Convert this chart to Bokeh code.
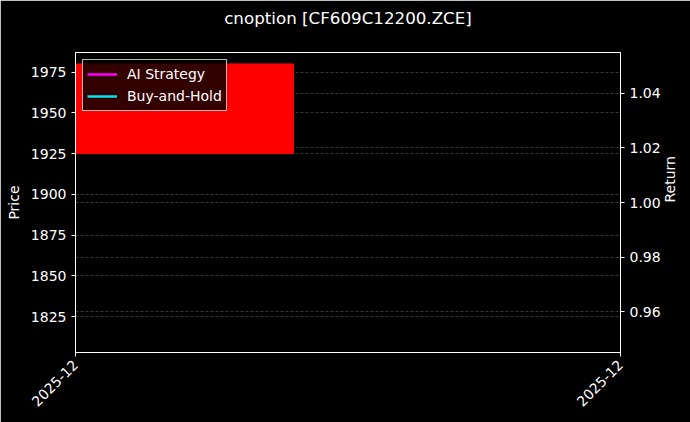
import math

from bokeh.embed import file_html
from bokeh.models import (FixedTicker, Grid, LinearAxis, NumeralTickFormatter,
                          Range1d)
from bokeh.plotting import figure
from bokeh.resources import INLINE


# Data (one trading bar)
bar_index = [0]
bar_open = [1980]
bar_close = [1925]
date_ticks = [0, 1]
date_labels = ["2025-12", "2025-12"]

strategy_return = [1.0]
buyhold_return = [1.0]

price_ticks = [1825, 1850, 1875, 1900, 1925, 1950, 1975]
return_ticks = [0.96, 0.98, 1.00, 1.02, 1.04]

FONT = "DejaVu Sans"
GRID = "#444444"

p = figure(
    frame_width=545,
    frame_height=300,
    # trailing blank line lifts the title towards the top edge
    title="cnoption [CF609C12200.ZCE]\n",
    x_range=Range1d(0, 1),
    y_range=Range1d(1803, 1987),
    output_backend="svg",
    toolbar_location=None,
    tools="",
    min_border_left=75,
    min_border_right=70,
    min_border_top=52,
    min_border_bottom=70,
)
p.background_fill_color = "black"
p.border_fill_color = "black"
p.outline_line_color = "white"
p.outline_line_width = 1

p.title.align = "center"
p.title.vertical_align = "top"
p.title.text_color = "white"
p.title.text_font = FONT
p.title.text_font_size = "16.7px"
p.title.text_font_style = "normal"
p.title.standoff = 6

# Price bar
p.vbar(x=bar_index, top=bar_open, bottom=bar_close, width=0.8,
       fill_color="#ff0000", line_color="#ff0000")

# Return axis on the right
p.extra_y_ranges = {"ret": Range1d(0.945, 1.055)}
ret_axis = LinearAxis(y_range_name="ret", axis_label="Return")
ret_axis.ticker = FixedTicker(ticks=return_ticks)
ret_axis.formatter = NumeralTickFormatter(format="0.00")
ret_axis.axis_label_orientation = math.pi / 2
p.add_layout(ret_axis, "right")

p.line(bar_index, strategy_return, y_range_name="ret", color="#ff00ff",
       line_width=2.5, legend_label="AI Strategy")
p.line(bar_index, buyhold_return, y_range_name="ret", color="#00e5ee",
       line_width=2.5, legend_label="Buy-and-Hold")

p.xaxis.ticker = FixedTicker(ticks=date_ticks)
p.xaxis.major_label_overrides = {t: l for t, l in zip(date_ticks, date_labels)}
p.xaxis.major_label_orientation = math.pi / 4
p.xaxis.major_label_standoff = 6

p.yaxis[0].ticker = FixedTicker(ticks=price_ticks)
p.yaxis[0].axis_label = "Price"

for ax in p.axis:
    ax.axis_line_color = "white"
    ax.major_tick_line_color = "white"
    ax.minor_tick_line_color = None
    ax.major_tick_out = 4
    ax.major_tick_in = 0
    ax.major_label_text_color = "white"
    ax.major_label_text_font = FONT
    ax.major_label_text_font_size = "14px"
    ax.axis_label_text_color = "white"
    ax.axis_label_text_font = FONT
    ax.axis_label_text_font_size = "14px"
    ax.axis_label_text_font_style = "normal"
    ax.axis_label_standoff = 6

p.xgrid.grid_line_color = None
p.ygrid.grid_line_color = GRID
p.ygrid.grid_line_dash = "3 2"
p.ygrid.grid_line_width = 0.8

ret_grid = Grid(dimension=1, ticker=ret_axis.ticker, y_range_name="ret",
                grid_line_color=GRID, grid_line_dash="3 2", grid_line_width=0.8)
p.add_layout(ret_grid)

p.legend.location = "top_left"
p.legend.margin = 7
p.legend.padding = 4
p.legend.spacing = 2
p.legend.glyph_width = 30
p.legend.label_height = 19
p.legend.label_standoff = 10
p.legend.label_text_color = "white"
p.legend.label_text_font = FONT
p.legend.label_text_font_size = "14px"
p.legend.background_fill_color = "black"
p.legend.background_fill_alpha = 0.8
p.legend.border_line_color = "#cccccc"
p.legend.border_line_alpha = 0.9

open("out.html", "w").write(file_html(p, INLINE))
